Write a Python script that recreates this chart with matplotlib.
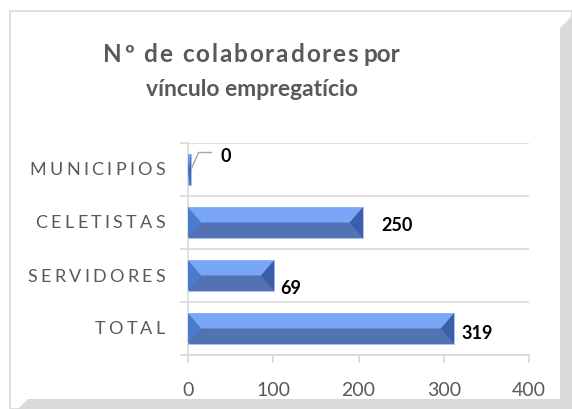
import matplotlib
matplotlib.use("Agg")
import matplotlib.pyplot as plt
from matplotlib.patches import Polygon
from matplotlib.lines import Line2D

# data
categories = ["MUNICIPIOS", "CELETISTAS", "SERVIDORES", "TOTAL"]
bar_lengths = [3, 205, 101, 312]        # drawn lengths
label_values = ["0", "250", "69", "319"]  # printed data labels
x_ticks = [0, 100, 200, 300, 400]

W, H = 572, 410
GRAY = "#595959"
LINE = "#d9d9d9"
FONT = ["Lato", "DejaVu Sans"]

fig = plt.figure(figsize=(W / 100, H / 100), dpi=100)
fig.patch.set_facecolor("white")
renderer = fig.canvas.get_renderer()


def px(x, y):
    return x / W, 1 - y / H


def text_w(s, **kw):
    t = fig.text(0, 0, s, **kw)
    w = t.get_window_extent(renderer).width
    t.remove()
    return w


def char_w(ch, **kw):
    if ch == " ":
        return text_w("a a", **kw) - text_w("aa", **kw)
    return text_w(ch, **kw)


def spaced_width(s, gap, **kw):
    return sum(char_w(c, **kw) for c in s) + gap * (len(s) - 1)


def spaced(s, x0, y, gap, **kw):
    for c in s:
        w = char_w(c, **kw)
        if c != " ":
            fig.text(*px(x0, y), c, ha="left", va="center", **kw)
        x0 += w + gap
    return x0 - gap


# chart frame with shadow
fig.patches.append(Polygon([px(10, 12), px(572, 12), px(572, 410), px(10, 410)],
                           closed=True, transform=fig.transFigure,
                           facecolor="white", edgecolor=LINE, lw=1.2, zorder=-3))
fig.patches.append(Polygon([px(560, 29), px(572, 17), px(572, 410), px(560, 410)],
                           closed=True, transform=fig.transFigure,
                           facecolor=LINE, edgecolor="none", zorder=-2))
fig.patches.append(Polygon([px(28, 400), px(572, 400), px(572, 410), px(18, 410)],
                           closed=True, transform=fig.transFigure,
                           facecolor=LINE, edgecolor="none", zorder=-2))

# title
tkw = dict(fontsize=17.5, fontweight="bold", color=GRAY, family=FONT)
part1 = "Nº de colaboradores"
gap1 = 1.9
w1 = spaced_width(part1, gap1, **tkw)
w2 = char_w(" ", **tkw) + text_w("por", **tkw)
xs = 252 - (w1 + w2) / 2
xe = spaced(part1, xs, 55, gap1, **tkw)
fig.text(*px(xe + char_w(" ", **tkw), 55), "por", ha="left", va="center", **tkw)
fig.text(*px(252, 89), "vínculo empregatício", ha="center", va="center",
         fontsize=16.5, fontweight="bold", color=GRAY, family=FONT)

# axes
ax = fig.add_axes([188 / W, 1 - 356 / H, 341 / W, 212 / H])
ax.set_facecolor("none")
ypos = list(range(len(categories)))
bar_h = 0.57
ax.barh(ypos, bar_lengths, height=bar_h, color="#5272b3",
        edgecolor="#a9c4f5", linewidth=0.6, zorder=3)
ax.set_xlim(0, 400)
ax.set_ylim(len(categories) - 0.5, -0.5)

# bevel facets
d_full = 13 * 400 / 341
for y, v in zip(ypos, bar_lengths):
    d = min(d_full, v / 2)
    top, mid, bot = y - bar_h / 2, y, y + bar_h / 2
    ax.add_patch(Polygon([(0, top), (v, top), (v - d, mid), (d, mid)],
                         facecolor="#7aa6f8", edgecolor="none", zorder=4))
    ax.add_patch(Polygon([(0, top), (d, mid), (0, bot)],
                         facecolor="#4a7bd0", edgecolor="none", zorder=4))
    ax.add_patch(Polygon([(v, top), (v - d, mid), (v, bot)],
                         facecolor="#3a5ea8", edgecolor="none", zorder=4))

for s in ["top", "right"]:
    ax.spines[s].set_visible(False)
for s in ["left", "bottom"]:
    ax.spines[s].set_color(LINE)
    ax.spines[s].set_linewidth(1.2)

ax.set_xticks(x_ticks)
ax.set_xticklabels([str(t) for t in x_ticks], fontsize=14, color=GRAY, family=FONT)
ax.tick_params(axis="x", length=6, width=1.2, color=LINE, pad=13)
ax.set_yticks([])
ax.set_yticks([i - 0.5 for i in range(len(categories) + 1)], minor=True)
ax.tick_params(axis="y", which="minor", length=6, width=1.2, color=LINE)
ax.grid(axis="y", which="minor", color=LINE, linewidth=1.2, zorder=0)

# category labels
ykw = dict(fontsize=13, color=GRAY, family=FONT)
for i, cat in enumerate(categories):
    yc = H - ax.transData.transform((0, i))[1]
    w = spaced_width(cat, 3.3, **ykw)
    spaced(cat, 165 - w, yc, 3.3, **ykw)

# data labels
lkw = dict(fontsize=13, fontweight="bold", color="black", family=FONT)
label_dx = [30, 19, 6, 7]
label_dy = [-14, 2, 12, 4]
for i, (v, lab) in enumerate(zip(bar_lengths, label_values)):
    bx, by = ax.transData.transform((v, i))
    by = H - by
    fig.text(*px(bx + label_dx[i], by + label_dy[i]), lab, ha="left", va="center", **lkw)
    if i == 0:
        fig.lines.append(Line2D([(bx + 1) / W, (bx + 8) / W, (bx + 21) / W],
                                [1 - (by - 1) / H, 1 - (by - 17) / H, 1 - (by - 17) / H],
                                transform=fig.transFigure, color="#a6a6a6", lw=1))

fig.savefig("out.png", dpi=100)
